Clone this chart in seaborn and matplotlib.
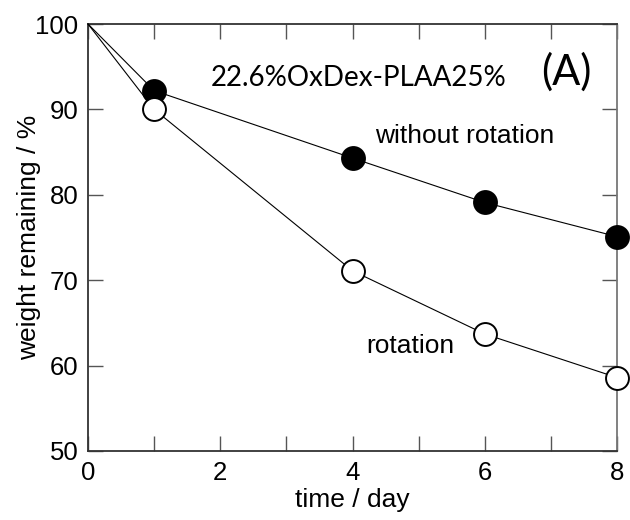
import pandas as pd
import seaborn as sns
from matplotlib import pyplot as plt
from matplotlib.ticker import MultipleLocator

days = [0, 1, 4, 6, 8]
without_rotation = [100, 92.2, 84.3, 79.1, 75.1]
rotation = [100, 90.0, 71.1, 63.7, 58.6]

df = pd.DataFrame({
    "day": days * 2,
    "weight": without_rotation + rotation,
    "cond": ["without rotation"] * 5 + ["rotation"] * 5,
})

sns.set_theme(style="ticks")
plt.rcParams['font.family'] = ['Liberation Sans', 'DejaVu Sans']
plt.rcParams['text.color'] = 'black'
plt.rcParams['axes.labelcolor'] = 'black'
plt.rcParams['xtick.labelcolor'] = 'black'
plt.rcParams['ytick.labelcolor'] = 'black'

fig = plt.figure(figsize=(6.3, 5.2), dpi=100)
ax = fig.add_axes([88 / 630, 1 - 451 / 520, (617 - 88) / 630, (451 - 24) / 520])

# filled series first, open circles on top
styles = {"without rotation": "black", "rotation": "white"}
for cond, face in styles.items():
    sub = df[df.cond == cond]
    sns.lineplot(x="day", y="weight", data=sub, ax=ax, color="black", lw=0.8,
                 marker="o", markersize=16.5, markerfacecolor=face,
                 markeredgecolor="black", markeredgewidth=1.4,
                 markevery=list(range(1, 5)), clip_on=False, zorder=3)

ax.set_xlim(0, 8)
ax.set_ylim(50, 100)
ax.xaxis.set_major_locator(MultipleLocator(2))
ax.xaxis.set_minor_locator(MultipleLocator(1))
ax.yaxis.set_major_locator(MultipleLocator(10))
ax.tick_params(which="both", direction="in", top=True, right=True,
               labelsize=18.5, width=1, color="#555555", pad=7)
ax.tick_params(which="major", length=11)
ax.tick_params(which="minor", length=11)
for s in ax.spines.values():
    s.set_linewidth(1.3)
    s.set_color("#333333")
ax.spines["right"].set_color("#777777")

ax.set_xlabel("time / day", fontsize=19, labelpad=2)
ax.set_ylabel("weight remaining / %", fontsize=19, labelpad=-4)

ax.text(4.10, 93.7, "22.6%OxDex-PLAA25%", fontsize=20,
        family=["Lato", "DejaVu Sans"], ha="center", va="center")
ax.text(7.23, 94.4, "(A)", fontsize=30, family=["Lato", "DejaVu Sans"],
        ha="center", va="center")
ax.text(5.69, 86.9, "without rotation", fontsize=19, ha="center", va="center")
ax.text(4.88, 62.3, "rotation", fontsize=19, ha="center", va="center")

fig.savefig("out.png", dpi=100)
